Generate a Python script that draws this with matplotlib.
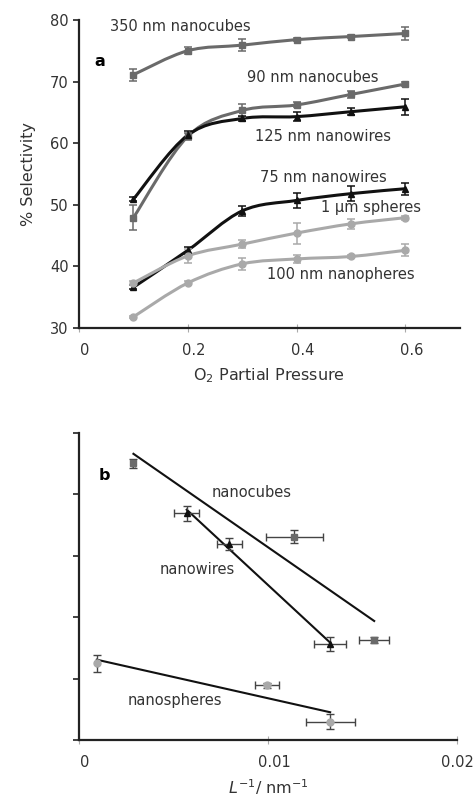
import numpy as np
import matplotlib.pyplot as plt
from matplotlib.path import Path
from matplotlib.patches import PathPatch
from matplotlib.transforms import ScaledTranslation

# Panel a: selectivity vs O2 partial pressure
pressure = [0.1, 0.2, 0.3, 0.4, 0.5, 0.6]
cubes_350 = [71.1, 75.0, 75.9, 76.8, 77.3, 77.8]
cubes_350_err = [1.0, 0.6, 1.0, 0.3, 0.3, 1.0]
cubes_90 = [47.9, 61.1, 65.3, 66.2, 67.9, 69.6]
cubes_90_err = [2.0, 0.6, 1.0, 0.4, 0.5, 0.3]
wires_125 = [50.9, 61.3, 64.0, 64.3, 65.1, 65.9]
wires_125_err = [0.3, 0.6, 0.4, 0.7, 0.6, 1.3]
wires_75 = [36.6, 42.6, 49.0, 50.7, 51.8, 52.6]
wires_75_err = [0.3, 0.6, 0.8, 1.2, 1.2, 1.0]
spheres_1um = [37.3, 41.7, 43.6, 45.4, 46.9, 47.9]
spheres_1um_err = [0.3, 1.1, 0.6, 1.7, 0.8, 0.3]
spheres_100 = [31.8, 37.3, 40.4, 41.2, 41.6, 42.6]
spheres_100_err = [0.2, 0.3, 1.0, 0.7, 0.3, 1.0]

# Panel b: selectivity vs inverse size (unlabelled y scale)
cube_inv = [0.00288, 0.0114, 0.01562]
cube_sel = [45.0, 33.1, 16.2]
cube_xerr = [0.0001, 0.0015, 0.0008]
cube_yerr = [0.7, 1.1, 0.5]
wire_inv = [0.0057, 0.00794, 0.01329]
wire_sel = [36.9, 31.9, 15.6]
wire_xerr = [0.00066, 0.00066, 0.00084]
wire_yerr = [1.2, 1.0, 1.1]
sphere_inv = [0.00094, 0.00994, 0.01329]
sphere_sel = [12.5, 8.9, 3.0]
sphere_xerr = [0.0, 0.00064, 0.0013]
sphere_yerr = [1.4, 0.4, 1.2]

DARK = "#6a6a6a"
BLACK = "#111111"
LIGHT = "#a9a9a9"


def smooth_line(ax, x, y, color, lw=2.2):
    # Excel-style smoothed line: Catmull-Rom segments as cubic Beziers
    p = np.column_stack([x, y])
    n = len(p)
    verts = [p[0]]
    codes = [Path.MOVETO]
    for i in range(n - 1):
        p0 = p[i - 1] if i > 0 else p[i]
        p3 = p[i + 2] if i + 2 < n else p[i + 1]
        c1 = p[i] + (p[i + 1] - p0) / 6.0
        c2 = p[i + 1] - (p3 - p[i]) / 6.0
        verts += [c1, c2, p[i + 1]]
        codes += [Path.CURVE4] * 3
    ax.add_patch(PathPatch(Path(verts, codes), facecolor="none", edgecolor=color,
                           lw=lw, zorder=2, capstyle="round", joinstyle="round"))


def style_axes(ax, shift_last=True):
    for s in ["top", "right"]:
        ax.spines[s].set_visible(False)
    for s in ["left", "bottom"]:
        ax.spines[s].set_linewidth(1.6)
        ax.spines[s].set_color("#222222")
    ax.tick_params(axis="y", direction="out", length=4, width=1.2, color="#222222",
                   labelsize=10.5, labelcolor="#333333")
    ax.tick_params(axis="x", direction="inout", length=6, width=0.8, color="#aaaaaa",
                   labelsize=10.5, labelcolor="#333333", pad=8)
    # Excel puts the x labels a little right of the ticks
    shift = ScaledTranslation(6 / 100, 0, ax.figure.dpi_scale_trans)
    labels = ax.get_xticklabels()
    if not shift_last:
        labels = labels[:-1]
    for lab in labels:
        lab.set_transform(lab.get_transform() + shift)


fig = plt.figure(figsize=(4.76, 7.96), dpi=100)
ax1 = fig.add_axes([0.166, 0.588, 0.800, 0.387])
ax2 = fig.add_axes([0.166, 0.0704, 0.794, 0.386])

series = [
    (cubes_350, cubes_350_err, DARK, "s"),
    (cubes_90, cubes_90_err, DARK, "s"),
    (wires_125, wires_125_err, BLACK, "^"),
    (wires_75, wires_75_err, BLACK, "^"),
    (spheres_1um, spheres_1um_err, LIGHT, "o"),
    (spheres_100, spheres_100_err, LIGHT, "o"),
]
for vals, err, col, mk in series:
    smooth_line(ax1, pressure, vals, col)
    ax1.errorbar(pressure, vals, yerr=err, fmt=mk, color=col, ms=5, capsize=3,
                 elinewidth=1.1, capthick=1.1, zorder=3)

ax1.set_xlim(0, 0.7)
ax1.set_ylim(30, 80)
ax1.set_xticks([0, 0.2, 0.4, 0.6])
ax1.set_xticklabels(["0", "0.2", "0.4", "0.6"])
ax1.set_yticks([30, 40, 50, 60, 70, 80])
style_axes(ax1)
ax1.set_ylabel("% Selectivity", fontsize=11.5, color="#333333", labelpad=10)
ax1.set_xlabel("O$_2$ Partial Pressure", fontsize=11.5, color="#333333", labelpad=6)

txt = dict(fontsize=10.5, color="#333333", ha="center", va="center")
ax1.text(0.187, 79.0, "350 nm nanocubes", **txt)
ax1.text(0.43, 70.7, "90 nm nanocubes", **txt)
ax1.text(0.449, 61.0, "125 nm nanowires", **txt)
ax1.text(0.449, 54.4, "75 nm nanowires", **txt)
ax1.text(0.536, 49.5, "1 μm spheres", **txt)
ax1.text(0.482, 38.6, "100 nm nanopheres", **txt)
ax1.text(0.039, 73.2, "a", fontsize=11.5, fontweight="bold", ha="center", va="center")

# panel b
groups = [
    (cube_inv, cube_sel, cube_xerr, cube_yerr, DARK, "s"),
    (wire_inv, wire_sel, wire_xerr, wire_yerr, BLACK, "^"),
    (sphere_inv, sphere_sel, sphere_xerr, sphere_yerr, LIGHT, "o"),
]
for xs, ys, xe, ye, col, mk in groups:
    ax2.errorbar(xs, ys, xerr=xe, yerr=ye, fmt=mk, color=col, ecolor="#444444", ms=5,
                 capsize=3, elinewidth=1.0, capthick=1.0, zorder=3)
    k, b = np.polyfit(xs, ys, 1)
    xf = np.array([min(xs), max(xs)])
    ax2.plot(xf, k * xf + b, color=BLACK, lw=1.5, zorder=2)

ax2.set_xlim(0, 0.02)
ax2.set_ylim(0, 50)
ax2.set_xticks([0, 0.01, 0.02])
ax2.set_xticklabels(["0", "0.01", "0.02"])
ax2.set_yticks([0, 10, 20, 30, 40, 50])
style_axes(ax2, shift_last=False)
ax2.get_xticklabels()[-1].set_ha("center")
ax2.tick_params(axis="y", labelleft=False)
ax2.set_xlabel("$L^{-1}$/ nm$^{-1}$", fontsize=11.5, color="#333333", labelpad=5)

ax2.text(0.00135, 43.0, "b", fontsize=11.5, fontweight="bold", ha="center", va="center")
ax2.text(0.00915, 40.2, "nanocubes", **txt)
ax2.text(0.00625, 27.8, "nanowires", **txt)
ax2.text(0.00505, 6.5, "nanospheres", **txt)

fig.savefig("out.png", dpi=100)
